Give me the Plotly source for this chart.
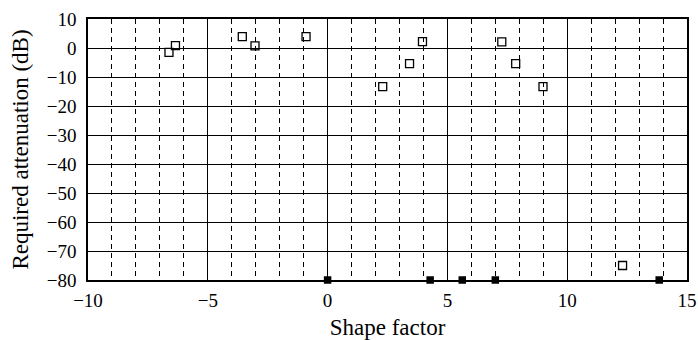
import plotly.graph_objects as go

open_x = [-6.62, -6.35, -3.56, -3.03, -0.9, 2.30, 3.42, 3.96, 7.27, 7.85, 8.99, 12.31]
open_y = [-1.5, 0.8, 3.9, 0.7, 3.9, -13.3, -5.4, 2.2, 2.1, -5.4, -13.3, -75]
filled_x = [0, 4.28, 5.62, 7.0, 13.84]
filled_y = [-80, -80, -80, -80, -80]

x_ticks = [-10, -5, 0, 5, 10, 15]
y_ticks = [10, 0, -10, -20, -30, -40, -50, -60, -70, -80]

fig = go.Figure()
fig.add_trace(go.Scatter(x=open_x, y=open_y, mode="markers",
                         marker=dict(symbol="square-open", size=8, color="black", line=dict(width=1.3)),
                         cliponaxis=False, showlegend=False))
fig.add_trace(go.Scatter(x=filled_x, y=filled_y, mode="markers",
                         marker=dict(symbol="square", size=7.5, color="black"),
                         cliponaxis=False, showlegend=False))

font = dict(family="Liberation Serif, Times New Roman, serif", size=19, color="black")
fig.update_layout(
    width=698, height=340,
    margin=dict(l=88, r=11, t=19, b=60),
    paper_bgcolor="white", plot_bgcolor="white",
    font=font,
    xaxis=dict(range=[-10, 15], tickvals=x_ticks, ticks="", showgrid=True, automargin=False,
               gridcolor="black", gridwidth=1.3, zeroline=False,
               showline=True, linecolor="black", linewidth=1.5, mirror=True,
               minor=dict(dtick=1, tick0=0, showgrid=True, gridcolor="black",
                          gridwidth=1, griddash="5px,4px"),
               title=dict(text="Shape factor", standoff=12),
               ticklabelstandoff=2),
    yaxis=dict(range=[-80, 10], tickvals=y_ticks, ticks="", showgrid=True, automargin=False,
               gridcolor="black", gridwidth=1.3, zeroline=False,
               showline=True, linecolor="black", linewidth=1.5, mirror=True,
               title=dict(text="Required attenuation (dB)", standoff=12),
               ticklabelstandoff=6),
)
fig.write_html("out.html", config={"displayModeBar": False},
               post_script="document.body.style.margin='0';")
